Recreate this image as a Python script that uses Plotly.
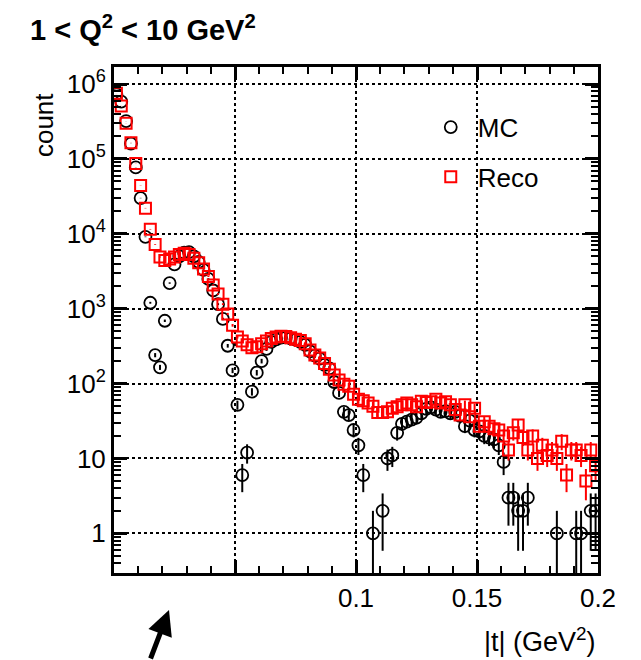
import numpy as np
import plotly.graph_objects as go

# |t| binning: 100 bins of 0.002 GeV^2 between 0 and 0.2
t_edges = np.linspace(0.0, 0.2, 101)
t_centers = 0.5 * (t_edges[:-1] + t_edges[1:])

# generated (MC) |t| distribution, counts per bin
mc_counts = [
    730000, 580000, 320000, 160000, 77000, 30000, 9100, 1200, 240, 165,
    690, 2200, 3900, 5000, 5600, 5700, 5000, 4200, 3300, 2500,
    1750, 1150, 730, 320, 150, 52, 6, 12, 78, 140,
    200, 290, 360, 390, 410, 415, 400, 385, 360, 330,
    270, 236, 215, 178, 160, 105, 75, 42, 38, 24,
    15, 6, 0, 1, 0, 2, 10, 11, 22, 29,
    31, 33, 35, 40, 46, 48, 45, 42, 43, 40,
    42, 37, 27, 32, 24, 23, 20, 19, 18, 15,
    9, 3, 3, 2, 2, 3, 0, 0, 0, 0,
    0, 1, 0, 0, 0, 1, 1, 0, 2, 2,
]

# reconstructed |t| distribution, counts per bin
reco_counts = [
    750000, 510000, 300000, 164000, 87000, 44000, 22000, 11500, 7200, 4900,
    4400, 4600, 4900, 5300, 5500, 5300, 4700, 4100, 3400, 2700,
    2070, 1570, 1150, 850, 600, 420, 370, 330, 300, 310,
    340, 370, 400, 420, 430, 425, 410, 390, 375, 340,
    280, 240, 220, 185, 155, 130, 112, 98, 92, 72,
    62, 59, 55, 50, 41, 41, 42, 47, 49, 52,
    55, 52, 49, 58, 56, 57, 62, 55, 57, 52,
    45, 38, 52, 36, 47, 27, 31, 27, 25, 24,
    20, 13, 22, 28, 19, 13, 20, 10, 15, 11,
    13, 10, 17, 6, 13, 13, 11, 5, 13, 8,
]

y_tick_vals = [1, 10, 100, 1000, 10000, 100000, 1000000]
y_tick_text = ["1", "10", "10<sup>2</sup>", "10<sup>3</sup>", "10<sup>4</sup>",
               "10<sup>5</sup>", "10<sup>6</sup>"]
x_tick_vals = [0.0, 0.05, 0.1, 0.15, 0.2]
x_tick_text = ["", "", "0.1", "0.15", "0.2"]

FONT = "Liberation Sans, Arial, Helvetica, sans-serif"


def poisson_points(counts):
    """Bin contents with sqrt(N) errors; empty bins are left out on the log axis."""
    n = np.asarray(counts, dtype=float)
    err = np.sqrt(n)
    err_lo = np.minimum(err, n - 0.05)  # keep the lower edge positive
    y = np.where(n > 0, n, np.nan)
    return y, err, err_lo


mc_y, mc_err, mc_err_lo = poisson_points(mc_counts)
reco_y, reco_err, reco_err_lo = poisson_points(reco_counts)

fig = go.Figure()

fig.add_trace(go.Scatter(
    x=t_centers, y=mc_y, mode="markers", name="MC", legend="legend",
    marker=dict(symbol="circle-open", size=12, color="black",
                line=dict(width=1.8, color="black")),
    error_y=dict(type="data", array=mc_err, arrayminus=mc_err_lo,
                 color="black", thickness=2, width=0),
))

fig.add_trace(go.Scatter(
    x=t_centers, y=reco_y, mode="markers", name="Reco", legend="legend2",
    marker=dict(symbol="square-open", size=11, color="red",
                line=dict(width=2, color="red")),
    error_y=dict(type="data", array=reco_err, arrayminus=reco_err_lo,
                 color="red", thickness=2, width=0),
))

minor_y = [m * 10 ** e for e in range(-1, 7) for m in range(2, 10)]

axis_common = dict(
    showline=True, linewidth=3, linecolor="black", mirror="allticks",
    ticks="inside", ticklen=13, tickwidth=2.5, tickcolor="black",
    showgrid=True, gridcolor="black", griddash="dot", gridwidth=1.5,
    zeroline=False, tickfont=dict(family=FONT, size=26, color="black"),
)

legend_common = dict(xanchor="left", yanchor="middle",
                     bgcolor="rgba(0,0,0,0)", itemwidth=44,
                     font=dict(family=FONT, size=26, color="black"))

fig.update_layout(
    width=641, height=660,
    margin=dict(l=114, r=43, t=67, b=87),
    paper_bgcolor="white", plot_bgcolor="white",
    font=dict(family=FONT, size=26, color="black"),
    showlegend=True,
    title=dict(
        text="<b>1 &lt; Q<sup>2</sup> &lt; 10 GeV<sup>2</sup></b>",
        x=30 / 641, xanchor="left", xref="container",
        y=1 - 30 / 660, yanchor="middle", yref="container",
        font=dict(family=FONT, size=29, color="black"),
    ),
    xaxis=dict(
        range=[0.0, 0.2], tickmode="array", tickvals=x_tick_vals,
        ticktext=x_tick_text,
        minor=dict(dtick=0.01, tick0=0, ticks="inside", ticklen=7,
                   tickwidth=2, tickcolor="black", showgrid=False),
        **axis_common,
    ),
    yaxis=dict(
        type="log", range=[-0.529, 6.227], tickmode="array",
        tickvals=y_tick_vals, ticktext=y_tick_text,
        minor=dict(tickmode="array", tickvals=minor_y, ticks="inside",
                   ticklen=7, tickwidth=2, tickcolor="black", showgrid=False),
        **axis_common,
    ),
    legend=dict(x=0.64, y=0.881, visible=True, **legend_common),
    legend2=dict(x=0.64, y=0.783, visible=True, **legend_common),
    annotations=[
        dict(text="count", textangle=-90, xref="paper", yref="paper",
             x=-0.143, y=0.952, xanchor="center", yanchor="top",
             showarrow=False, font=dict(family=FONT, size=26)),
        dict(text="|t| (GeV<sup>2</sup>)", xref="paper", yref="paper",
             x=1.0, y=-0.095, xanchor="right", yanchor="top",
             showarrow=False, font=dict(family=FONT, size=27)),
        dict(text="", xref="paper", yref="paper",
             x=(169 - 114) / 484, y=(573 - 610) / 506, ax=-19, ay=58,
             showarrow=True, arrowhead=2, arrowsize=1.0, arrowwidth=5,
             arrowcolor="black", standoff=0),
    ],
)

fig.write_html("out.html")
